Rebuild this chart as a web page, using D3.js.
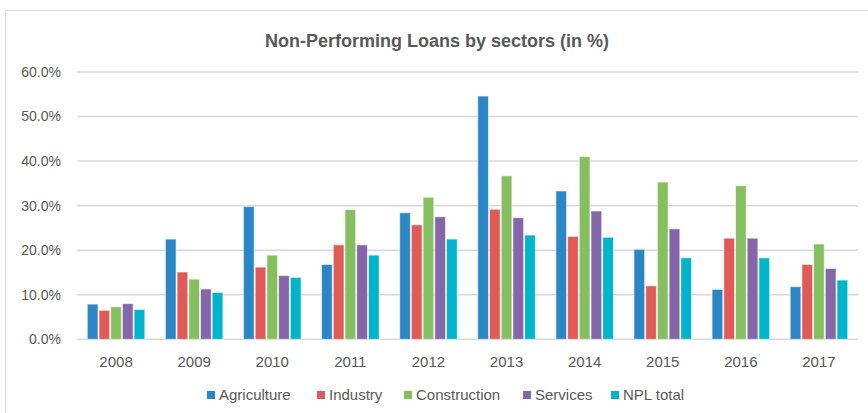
<!DOCTYPE html>
<html>
<head>
<meta charset="utf-8">
<script src="https://cdn.jsdelivr.net/npm/d3@7"></script>
<style>
  body { margin: 0; background: #fff; }
  svg { display: block; }
  text { font-family: "Liberation Sans", Arial, sans-serif; fill: #595959; }
</style>
</head>
<body>
<div id="chart"></div>
<script>
// data (shares in %)
var years = ["2008", "2009", "2010", "2011", "2012", "2013", "2014", "2015", "2016", "2017"];
var sectors = ["Agriculture", "Industry", "Construction", "Services", "NPL total"];
var agriculture  = [7.9, 22.5, 29.8, 16.8, 28.4, 54.6, 33.3, 20.2, 11.2, 11.8];
var industry     = [6.5, 15.1, 16.2, 21.2, 25.7, 29.2, 23.1, 12.0, 22.7, 16.8];
var construction = [7.3, 13.5, 18.9, 29.1, 31.9, 36.7, 41.0, 35.3, 34.5, 21.4];
var services     = [8.0, 11.3, 14.3, 21.2, 27.5, 27.3, 28.8, 24.8, 22.7, 15.9];
var nplTotal     = [6.7, 10.5, 13.9, 18.9, 22.5, 23.4, 22.9, 18.3, 18.3, 13.3];
var yTicks = [0, 10, 20, 30, 40, 50, 60];

var series = [agriculture, industry, construction, services, nplTotal];
var colors = ["#2a86c4", "#e05a57", "#86bf5f", "#8466a9", "#00b5ca"];

var W = 868, H = 413;
var svg = d3.select("#chart").append("svg")
    .attr("width", W)
    .attr("height", H);

// chart frame (runs off the right / bottom edge like the screenshot)
svg.append("rect")
    .attr("x", 5.5).attr("y", 10.5)
    .attr("width", 900).attr("height", 420)
    .attr("fill", "#fff")
    .attr("stroke", "#d9d9d9");

svg.append("text")
    .attr("x", 437).attr("y", 47)
    .attr("text-anchor", "middle")
    .attr("font-size", "18px")
    .attr("font-weight", "bold")
    .text("Non-Performing Loans by sectors (in %)");

var x0 = d3.scaleBand()
    .domain(years)
    .range([77, 858])
    .paddingInner(0.25)
    .paddingOuter(0.125);

var x1 = d3.scaleBand()
    .domain(sectors)
    .range([0, x0.bandwidth()]);

var y = d3.scaleLinear()
    .domain([0, 60])
    .range([339.3, 72]);

// gridlines
svg.append("g")
    .selectAll("line")
    .data(yTicks)
    .enter().append("line")
      .attr("x1", 77).attr("x2", 858)
      .attr("y1", function(d) { return y(d); })
      .attr("y2", function(d) { return y(d); })
      .attr("stroke", "#d9d9d9")
      .attr("stroke-width", 1.5);

// y axis labels
svg.append("g")
    .selectAll("text")
    .data(yTicks)
    .enter().append("text")
      .attr("x", 61)
      .attr("y", function(d) { return y(d); })
      .attr("dy", "0.35em")
      .attr("text-anchor", "end")
      .attr("font-size", "14px")
      .text(function(d) { return d.toFixed(1) + "%"; });

// bars
var groups = svg.append("g")
    .selectAll("g")
    .data(years)
    .enter().append("g")
      .attr("transform", function(d) { return "translate(" + x0(d) + ",0)"; });

groups.selectAll("rect")
    .data(function(d, i) {
        return sectors.map(function(s, j) { return { key: s, idx: j, value: series[j][i] }; });
    })
    .enter().append("rect")
      .attr("x", function(d) { return x1(d.key) + 0.5; })
      .attr("width", x1.bandwidth() - 1)
      .attr("y", function(d) { return y(d.value); })
      .attr("height", function(d) { return y(0) - y(d.value); })
      .attr("fill", function(d) { return colors[d.idx]; })
      .attr("stroke", "#fff")
      .attr("stroke-opacity", 0.6)
      .attr("stroke-width", 1);

// x axis labels
svg.append("g")
    .selectAll("text")
    .data(years)
    .enter().append("text")
      .attr("x", function(d) { return x0(d) + x0.bandwidth() / 2; })
      .attr("y", 367)
      .attr("text-anchor", "middle")
      .attr("font-size", "15px")
      .text(function(d) { return d; });

// legend
var legendX = [207, 317, 404, 523, 611];
var legend = svg.append("g")
    .selectAll("g")
    .data(sectors)
    .enter().append("g")
      .attr("transform", function(d, i) { return "translate(" + legendX[i] + ",395)"; });

legend.append("rect")
    .attr("x", 0).attr("y", -4)
    .attr("width", 8).attr("height", 8)
    .attr("fill", function(d, i) { return colors[i]; });

legend.append("text")
    .attr("x", 12)
    .attr("y", 0)
    .attr("dy", "0.35em")
    .attr("font-size", "15px")
    .text(function(d) { return d; });
</script>
</body>
</html>
